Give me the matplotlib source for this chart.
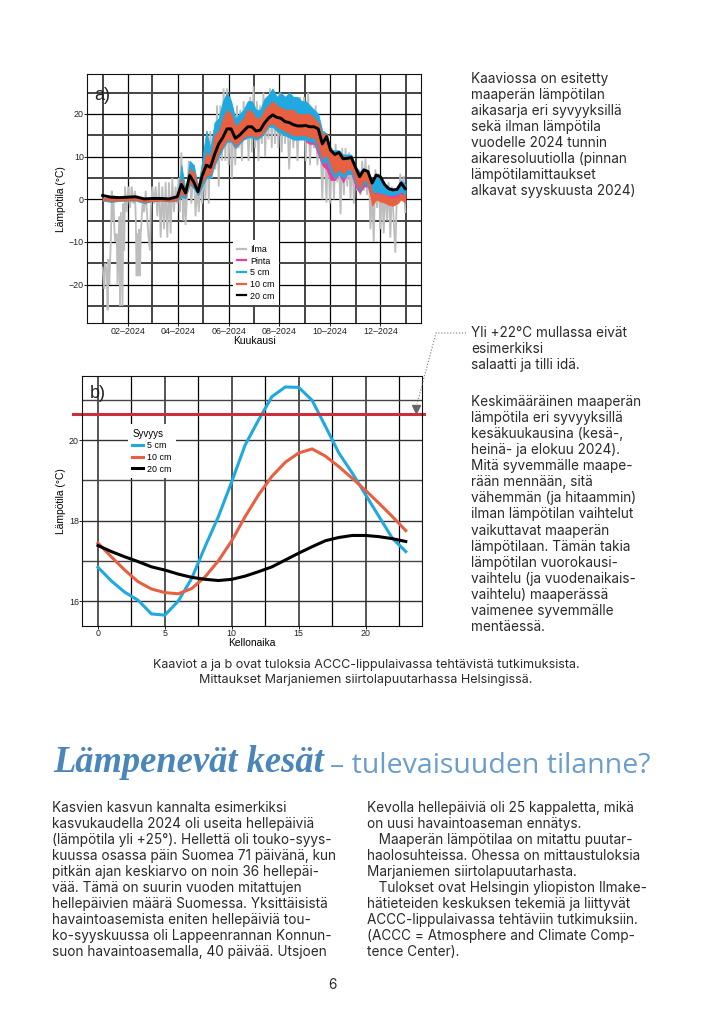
import matplotlib
matplotlib.use("Agg")
import matplotlib.pyplot as plt
from matplotlib.lines import Line2D

W, H = 710, 1014

# a) ilman lämpötila, luettu kuvasta (vuodenpäivä, °C)
ilma_paivat = [0, 2, 3, 5, 6, 7, 8, 10, 11, 12, 13, 14, 15, 17, 18, 20, 21, 22, 24, 25, 26, 27, 29, 31, 33,
               35, 37, 39, 40, 41, 42, 43, 44, 45, 46, 47, 48, 50, 52, 54, 55, 57, 58, 60, 62, 64, 66, 68, 70, 72,
               74, 76, 78, 80, 82, 84, 86, 88, 90, 92, 93, 95, 97, 99, 100, 104, 107, 110, 112, 114, 116, 118, 120,
               122, 124, 126, 128, 130, 132, 134, 136, 138, 140, 142, 144, 146, 148, 150, 152, 154, 156, 158, 160,
               162, 164, 166, 168, 170, 172, 174, 176, 178, 180, 182, 184, 186, 188, 190, 192, 194, 196, 198, 200,
               202, 204, 206, 208, 210, 212, 214, 216, 218, 220, 222, 225, 228, 230, 233, 235, 238, 240, 243, 245,
               248, 250, 253, 255, 257, 259, 262, 265, 267, 270, 272, 274, 277, 279, 281, 283, 285, 287, 289, 291,
               293, 295, 297, 299, 301, 303, 305, 307, 309, 311, 313, 315, 317, 319, 321, 323, 325, 327, 329, 331,
               333, 335, 337, 339, 341, 343, 345, 347, 349, 351, 353, 355, 357, 359, 361, 363, 365]
ilma_temp = [-16, -21, -15, -17, -26, -14, -20, -9, 2, -5, 1, -6, -10, -8, -20, -4, -25, -3, -25, -1, -12, 3, -3, 3, -2,
             3, -1, 2, -5, -18, -8, -18, -7, -18, -8, -5, -1, -3, 2, -5, -8, -12, -2, 3, -1, 3, -4, 4, -9, 3,
             -7, 4, -9, 4, -8, 5, -3, 3, -1, 5, -3, 11, -5, 3, -6, 9, -1, 8, -4, 3, -3, 5, -1,
             6, 0, 16, -1, 16, 5, 14, 7, 22, 3, 22, 9, 26, 9, 26, 8, 24, 5, 20, 8,
             22, 12, 21, 9, 23, 14, 21, 9, 24, 11, 26.5, 12, 23, 9, 22, 13, 25, 10, 24, 14,
             26, 12, 25, 13, 24, 12, 25, 11, 24, 13, 23, 7, 24, 12, 23, 9, 24, 14, 24, 9,
             25, 8, 21, 12, 22, 8, 18, 0, 16, -0.8, 15, -1, 12, 0, 13, 4, 10, -3.5, 12, 1,
             12, 3, 11, 0, 10, -1, 8, 2, 7, 1, 9, 2, 9.5, 1, 8, -7, 2, -10, 7, -2,
             6, -7, 4, -8, 3, -5, 4, -9, 3, -5, -12.5, 2, -1, 6, 0, 5.5, -3]

# a) maaperä: päivän ala- ja yläraja syvyyksittäin
paivat = [0, 10, 20, 30, 40, 50, 60, 70, 80, 90,
          95, 100, 105, 110, 115, 120, 125, 130, 135, 140, 145, 150, 155, 160, 165,
          170, 175, 180, 185, 190, 195, 200, 205, 210, 215, 220, 225, 230, 235, 240,
          245, 250, 255, 260, 265, 270, 275, 280, 285, 290, 295, 300, 305, 310, 315,
          320, 325, 330, 335, 340, 345, 350, 355, 360, 365]
syv20 = [0.9, 0.5, 0.4, 0.5, 0.6, 0.1, 0.2, 0.2, 0.1, 0.6,
         3.5, 1.5, 5.6, 4, 1.8, 5.5, 8, 7.5, 10.5, 13, 14.5, 16.5, 16.5, 14.3, 15,
         16, 17, 17, 16, 16.2, 17.8, 19, 19.8, 19.2, 19, 18.2, 18, 17.5, 17.2, 17.2,
         17.3, 17, 17, 16.5, 13, 14.7, 11.5, 10.5, 11, 9.5, 9.6, 9.8, 7.5, 5.3, 6.9,
         6.5, 3.8, 5.7, 5.3, 3.5, 2.5, 2.2, 2.3, 3.8, 2.5]
syv10_yla = [0.3, 0.3, 0.3, 0.4, 0.4, 0, 0.1, 0.1, 0, 0.5,
             5, 1.5, 7, 6.5, 2.5, 7, 11, 10, 15, 16, 19, 21, 20, 17, 18,
             19, 21, 20.5, 19, 19, 21, 22, 23, 22, 21.5, 21, 21, 21, 20, 20,
             20, 20, 19, 18, 15, 15.5, 11, 11, 11, 10, 10, 10, 7, 6, 7,
             6.5, 1.5, 1.3, 1, 1, 0.5, 0.2, 0.5, 1.2, 0.8]
syv10_ala = [-0.2, -0.3, -0.3, -0.2, -0.2, -0.6, -0.4, -0.3, -0.4, -0.2,
             1.5, 0.7, 4, 3, 1.5, 4, 5.5, 6, 8.5, 11, 12.5, 14, 14, 12.5, 13.5,
             14.5, 15, 15, 14.5, 15, 16, 17.5, 17.8, 17, 16.5, 16, 15.5, 15, 15, 15,
             15, 14.5, 14.5, 12.5, 9.5, 10.5, 8, 6, 7, 6, 7, 7, 4.5, 2.5, 4.5,
             4, -1.5, 0, -0.5, -0.8, -1.3, -1.5, -1, 0, -0.8]
syv5_yla = [0.2, 0.2, 0.3, 0.3, 0.3, 0, 0.1, 0.1, 0, 0.6,
            8, 2, 9, 8, 3, 9, 16, 12, 18, 19, 23, 25, 23, 19, 20,
            21, 23, 23, 21, 21, 23.5, 24.5, 26, 24, 25, 24, 25, 24, 24, 23,
            23, 22, 21, 20, 16, 15.5, 11.5, 11.5, 11.5, 10.5, 10.5, 10.5, 7.5, 6.5, 7.2,
            6.8, 3.5, 5.5, 5, 3, 2.5, 2.5, 2.5, 4.5, 3.5]
syv5_ala = [-0.3, -0.6, -0.4, -0.3, -0.3, -0.9, -0.4, -0.3, -0.5, -0.3,
            0.5, 0.3, 3.5, 2.5, 1, 3, 5, 5, 8, 10, 12, 13.5, 13.5, 12, 13,
            14, 14.5, 14.5, 14, 14.5, 15.5, 17, 17, 16, 15.5, 15, 14.5, 14, 14, 14,
            14, 13.5, 13.5, 11.5, 8.5, 9, 6.5, 5, 6, 5, 6, 6, 4, 2, 4,
            3, 1.5, 1.8, 1.5, 1.3, 1, 1, 1.2, 1.8, 1.2]
# pinnan mittaukset alkavat syyskuussa
pinta_paivat = [245, 250, 255, 260, 265, 270, 275, 280, 285, 290, 295, 300, 305, 310, 315,
                320, 325, 330, 335, 340, 345, 350, 355, 360, 365]
pinta_yla = [21, 20, 19, 18, 14.5, 14, 10, 10, 10, 9.5, 9.5, 9.5, 6.5, 5.5, 6.5,
             6, 3, 3.5, 3, 2.5, 2, 2, 2, 3, 2.5]
pinta_ala = [13.5, 13, 13, 10.5, 8, 7, 4.5, 4.5, 6, 4, 6, 6, 3, 1.5, 3,
             3, -0.5, 0.5, 0.5, 0.3, 0, 0, 0.3, 0.5, 0]

kk_tickit = [31, 91, 152, 213, 274, 335]
kk_minor = [0, 60, 121, 182, 244, 305, 366]
kk_nimet = ["02\u20132024", "04\u20132024", "06\u20132024", "08\u20132024", "10\u20132024", "12\u20132024"]

# b) keskimääräinen vuorokausivaihtelu
tunnit = list(range(24))
b_5cm = [16.84, 16.5, 16.22, 16.02, 15.68, 15.65, 16.0, 16.56, 17.35, 18.1, 18.97, 19.88,
         20.5, 21.08, 21.32, 21.31, 20.99, 20.34, 19.68, 19.18, 18.64, 18.1, 17.56, 17.23]
b_10cm = [17.44, 17.1, 16.77, 16.48, 16.3, 16.21, 16.18, 16.31, 16.6, 17.0, 17.5, 18.1,
          18.64, 19.1, 19.45, 19.68, 19.78, 19.6, 19.34, 19.05, 18.75, 18.43, 18.1, 17.75]
b_20cm = [17.38, 17.23, 17.1, 16.98, 16.85, 16.77, 16.67, 16.59, 16.54, 16.51, 16.54, 16.62,
          16.73, 16.85, 17.02, 17.19, 17.35, 17.5, 17.58, 17.63, 17.63, 17.6, 17.55, 17.48]
raja_22 = 20.65

# sivun tekstit
oikea1 = ["Kaaviossa on esitetty", "maaperän lämpötilan", "aikasarja eri syvyyksillä", "sekä ilman lämpötila",
          "vuodelle 2024 tunnin", "aikaresoluutiolla (pinnan", "lämpötilamittaukset", "alkavat syyskuusta 2024)"]
oikea2 = ["Yli +22°C mullassa eivät", "esimerkiksi", "salaatti ja tilli idä."]
oikea3 = ["Keskimääräinen maaperän", "lämpötila eri syvyyksillä", "kesäkuukausina (kesä-,", "heinä- ja elokuu 2024).",
          "Mitä syvemmälle maape-", "rään mennään, sitä", "vähemmän (ja hitaammin)", "ilman lämpötilan vaihtelut",
          "vaikuttavat maaperän", "lämpötilaan. Tämän takia", "lämpötilan vuorokausi-", "vaihtelu (ja vuodenaikais-",
          "vaihtelu) maaperässä", "vaimenee syvemmälle", "mentäessä."]
kuvateksti = ["Kaaviot a ja b ovat tuloksia ACCC-lippulaivassa tehtävistä tutkimuksista.",
              "Mittaukset Marjaniemen siirtolapuutarhassa Helsingissä."]
palsta1 = ["Kasvien kasvun kannalta esimerkiksi", "kasvukaudella 2024 oli useita hellepäiviä",
           "(lämpötila yli +25°). Hellettä oli touko-syys-", "kuussa osassa päin Suomea 71 päivänä, kun",
           "pitkän ajan keskiarvo on noin 36 hellepäi-", "vää. Tämä on suurin vuoden mitattujen",
           "hellepäivien määrä Suomessa. Yksittäisistä", "havaintoasemista eniten hellepäiviä tou-",
           "ko-syyskuussa oli Lappeenrannan Konnun-", "suon havaintoasemalla, 40 päivää. Utsjoen"]
palsta2 = ["Kevolla hellepäiviä oli 25 kappaletta, mikä", "on uusi havaintoaseman ennätys.",
           "   Maaperän lämpötilaa on mitattu puutar-", "haolosuhteissa. Ohessa on mittaustuloksia",
           "Marjaniemen siirtolapuutarhasta.", "   Tulokset ovat Helsingin yliopiston Ilmake-",
           "hätieteiden keskuksen tekemiä ja liittyvät", "ACCC-lippulaivassa tehtäviin tutkimuksiin.",
           "(ACCC = Atmosphere and Climate Comp-", "tence Center)."]

HARMAA = "#bdbdbd"
PINKKI = "#e8409f"
SININEN = "#1fa9e0"
ORANSSI = "#e8603f"
MUSTA = "#000000"
PUNAINEN = "#c9303c"
TEKSTI = "#2b2b2b"
OTSIKKO = "#4b86bb"

plt.rcParams["font.family"] = ["Liberation Sans", "DejaVu Sans"]
fig = plt.figure(figsize=(W / 100, H / 100), dpi=100, facecolor="white")


def akseli(x0, y0, x1, y1):
    # kuvan pikselit -> figure-koordinaatit
    return fig.add_axes([x0 / W, 1 - y1 / H, (x1 - x0) / W, (y1 - y0) / H])


def reunat(ax):
    for s in ax.spines.values():
        s.set_linewidth(0.8)
        s.set_color("#111111")
    ax.tick_params(which="major", length=2, width=0.7, labelsize=6.4, pad=0.5, colors="#222222")
    ax.tick_params(which="minor", length=0)
    ax.set_axisbelow(True)


# --- a) ---
ax1 = akseli(87.3, 74.3, 421, 323.3)
ax1.set_xlim(-18.5, 384)
ax1.set_ylim(-29.06, 29.3)
ax1.set_xticks(kk_tickit)
ax1.set_xticklabels(kk_nimet)
ax1.set_xticks(kk_minor, minor=True)
ax1.set_yticks([-20, -10, 0, 10, 20])
ax1.set_yticklabels(["\u221220", "\u221210", "0", "10", "20"])
ax1.set_yticks([-25, -15, -5, 5, 15, 25], minor=True)
ax1.grid(which="major", color="#000000", lw=0.9)
ax1.grid(which="minor", color="#444444", lw=1.4)
reunat(ax1)

ax1.plot(ilma_paivat, ilma_temp, color=HARMAA, lw=1.3, solid_joinstyle="miter", zorder=2)
ax1.fill_between(pinta_paivat, pinta_ala, pinta_yla, color=PINKKI, lw=0.6, zorder=3)
ax1.fill_between(paivat, syv5_ala, syv5_yla, color=SININEN, lw=0.6, zorder=4)
ax1.fill_between(paivat, syv10_ala, syv10_yla, color=ORANSSI, lw=0.6, zorder=5)
ax1.plot(paivat, syv20, color=MUSTA, lw=2.1, zorder=6)

kahvat1 = [Line2D([], [], color=HARMAA, lw=1.6), Line2D([], [], color=PINKKI, lw=1.6),
           Line2D([], [], color=SININEN, lw=1.6), Line2D([], [], color=ORANSSI, lw=1.6),
           Line2D([], [], color=MUSTA, lw=1.6)]
leg1 = ax1.legend(kahvat1, ["Ilma", "Pinta", "5 cm", "10 cm", "20 cm"], loc="lower left",
                  bbox_to_anchor=((232.7 - 87.3) / 333.7, (323.3 - 305) / 249), borderaxespad=0,
                  frameon=True, facecolor="white", edgecolor="none", framealpha=1, fancybox=False,
                  fontsize=6.4, handlelength=0.95, labelspacing=0.3, handletextpad=0.5, borderpad=0.5)
leg1.set_zorder(10)
ax1.set_xlabel("Kuukausi", fontsize=7.5, labelpad=0)
ax1.set_ylabel("Lämpötila (°C)", fontsize=7.4)
ax1.yaxis.set_label_coords((65.5 - 87.3) / 333.7, 0.5)

# --- b) ---
ax2 = akseli(82.3, 375.7, 421.7, 626)
ax2.set_xlim(-1.17, 24.19)
ax2.set_ylim(15.38, 21.6)
ax2.set_xticks([0, 5, 10, 15, 20])
ax2.set_xticks([2.5, 7.5, 12.5, 17.5, 22.5], minor=True)
ax2.set_yticks([16, 18, 20])
ax2.set_yticks([17, 19, 21], minor=True)
ax2.grid(which="major", axis="x", color="#555555", lw=1.4)
ax2.grid(which="minor", axis="x", color="#000000", lw=0.9)
ax2.grid(which="major", axis="y", color="#333333", lw=1.0)
ax2.grid(which="minor", axis="y", color="#444444", lw=1.0)
reunat(ax2)

ax2.plot(tunnit, b_5cm, color=SININEN, lw=2.2, label="5 cm")
ax2.plot(tunnit, b_10cm, color=ORANSSI, lw=2.2, label="10 cm")
ax2.plot(tunnit, b_20cm, color=MUSTA, lw=2.2, label="20 cm")
ax2.plot([-0.028, 1.007], [raja_22, raja_22], color=PUNAINEN, lw=2.2,
         transform=ax2.get_yaxis_transform(), clip_on=False)

leg2 = ax2.legend(loc="lower left", title="Syvyys", bbox_to_anchor=((128 - 82.3) / 339.4, (626 - 478) / 250.3),
                  borderaxespad=0, frameon=True, facecolor="white", edgecolor="none", framealpha=1,
                  fancybox=False, fontsize=6.4, title_fontsize=7, handlelength=1.15, labelspacing=0.3,
                  handletextpad=0.5, borderpad=0.5, alignment="left")
ax2.set_xlabel("Kellonaika", fontsize=7.4, labelpad=-0.5)
ax2.set_ylabel("Lämpötila (°C)", fontsize=7.4)
ax2.yaxis.set_label_coords((65.5 - 82.3) / 339.4, 0.5)

# --- sivun tekstit pikselikoordinaateissa ---
sivu = fig.add_axes([0, 0, 1, 1], facecolor="none", zorder=5)
sivu.set_xlim(0, W)
sivu.set_ylim(H, 0)
sivu.axis("off")

sivu.text(94, 95, "a)", fontsize=13, va="center", color="#222222")
sivu.text(90, 393, "b)", fontsize=13, va="center", color="#222222")

RUNKO = ["Inter", "DejaVu Sans"]


def rivit(lista, x, y0, vali, koko=9.8, ha="left"):
    for i, r in enumerate(lista):
        sivu.text(x, y0 + i * vali, r, family=RUNKO, fontsize=koko, color=TEKSTI, va="center", ha=ha)


rivit(oikea1, 471, 78.5, 16.1)
rivit(oikea2, 471, 333, 16)
rivit(oikea3, 471, 402, 16.07)
rivit(kuvateksti, 366, 665, 15.5, koko=9.05, ha="center")
rivit(palsta1, 52, 808, 16)
rivit(palsta2, 367, 808, 16)
sivu.text(332, 985, "6", family=RUNKO, fontsize=9.8, color=TEKSTI, ha="center", va="center")

# pisteviiva ja nuolenpää
sivu.plot([466, 436, 417], [333, 333, 404], color="#777777", lw=0.8, ls=":")
sivu.plot([415.5], [408.5], marker="v", ms=6, color="#666666", ls="none")

# otsikko
sivu.text(53, 763, "Lämpenevät kesät", family=["Liberation Serif", "DejaVu Serif"], style="italic",
          weight="bold", fontsize=26.3, color=OTSIKKO, va="center")
sivu.text(330, 766, "\u2013 tulevaisuuden tilanne?", family=["Open Sans", "DejaVu Sans"], fontsize=20.5,
          color="#6a9dcb", va="center")

fig.savefig("out.png", dpi=100)
